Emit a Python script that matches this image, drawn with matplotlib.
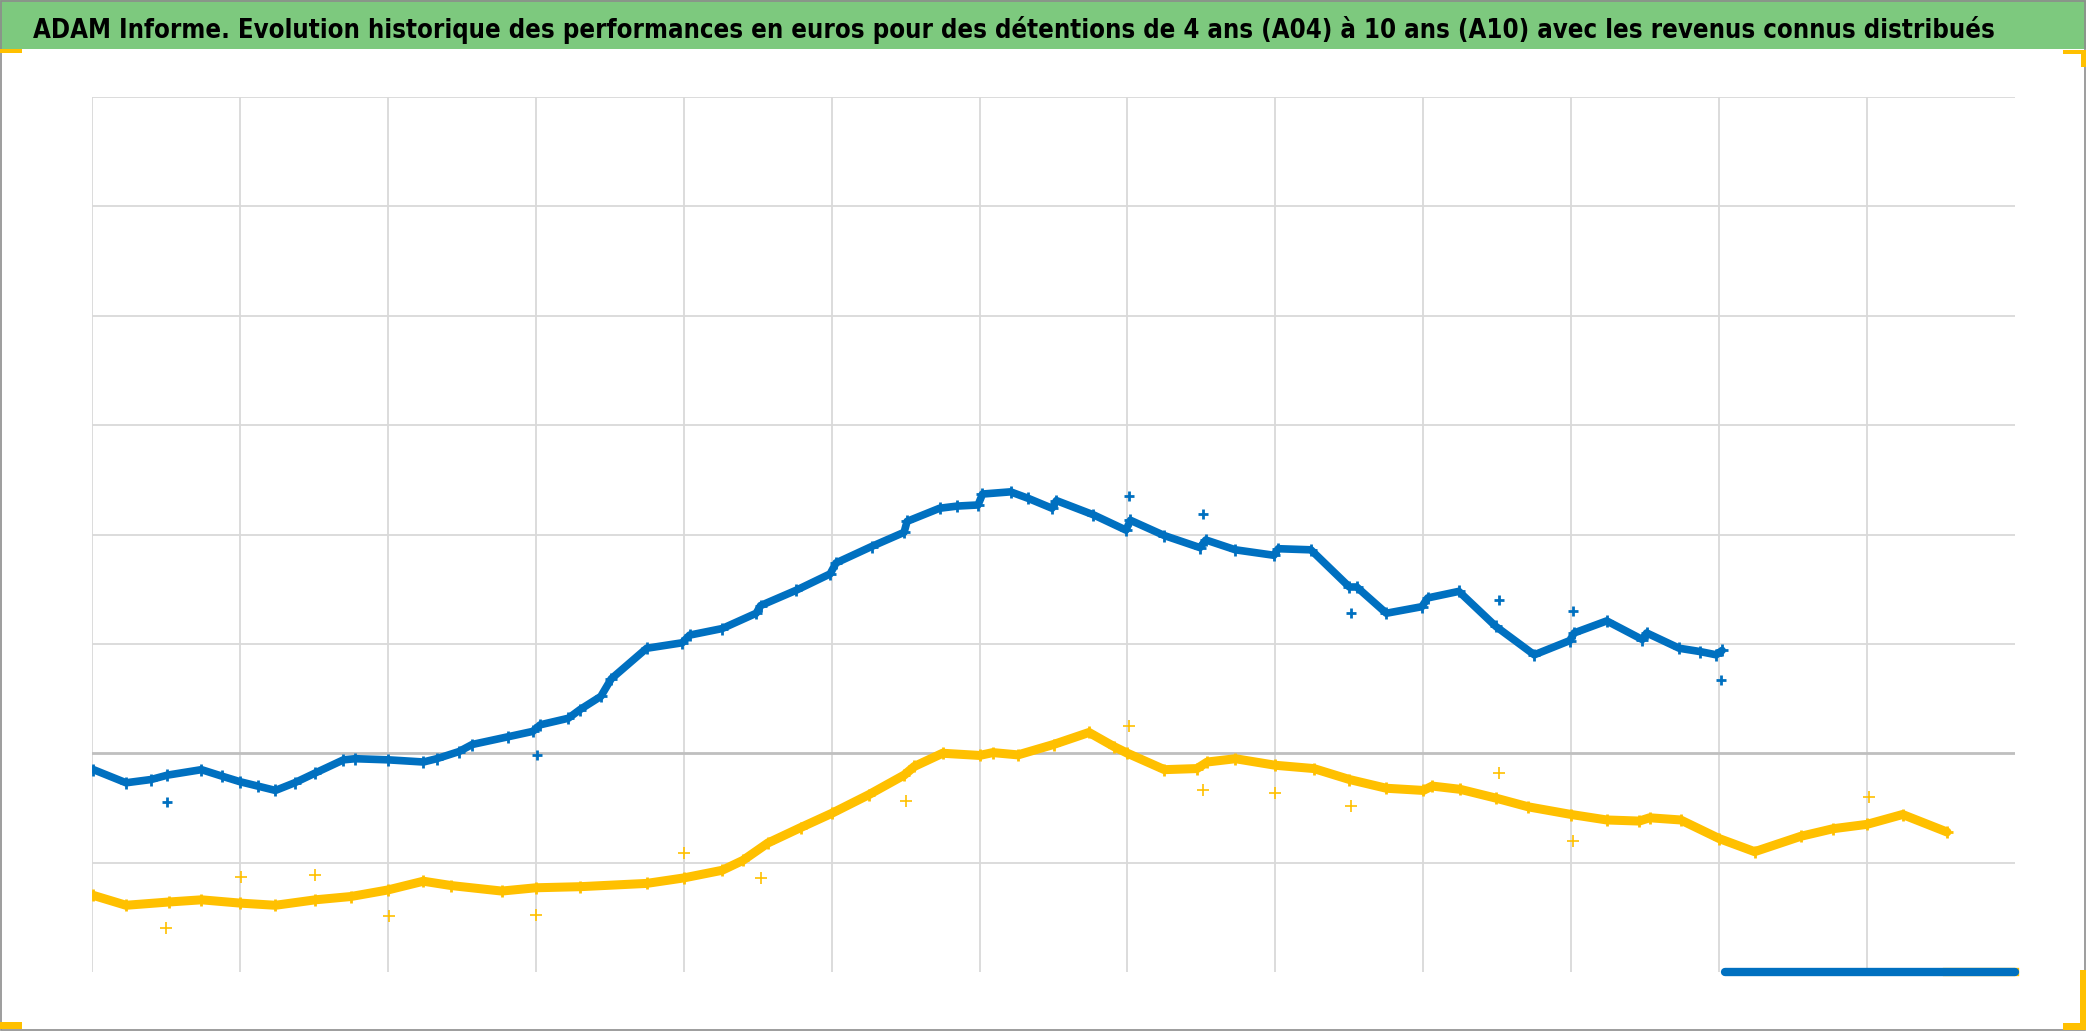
import numpy as np
import matplotlib
matplotlib.use("Agg")
import matplotlib.pyplot as plt
from matplotlib import font_manager

# values, x in gridline steps (0..13), y in gridline steps (-2..6)
a10_x = [0.01, 0.23, 0.40, 0.51, 0.74, 0.88, 1.0, 1.12, 1.24, 1.37, 1.51, 1.70, 1.78, 2.0,
         2.24, 2.33, 2.48, 2.57, 2.81, 2.98, 3.03, 3.22, 3.30, 3.44, 3.51, 3.75, 3.99, 4.04,
         4.26, 4.49, 4.52, 4.76, 4.99, 5.03, 5.27, 5.49, 5.51, 5.73, 5.85, 5.99, 6.02, 6.21,
         6.33, 6.49, 6.52, 6.77, 6.99, 7.02, 7.25, 7.49, 7.53, 7.73, 7.99, 8.02, 8.24, 8.50,
         8.55, 8.75, 8.99, 9.03, 9.24, 9.49, 9.75, 9.99, 10.02, 10.24, 10.48, 10.51, 10.73,
         10.87, 10.98, 11.02]
a10_y = [-0.15, -0.27, -0.24, -0.20, -0.15, -0.21, -0.26, -0.30, -0.34, -0.27, -0.18, -0.06,
         -0.05, -0.06, -0.08, -0.05, 0.015, 0.08, 0.15, 0.20, 0.26, 0.32, 0.40, 0.52, 0.68,
         0.96, 1.01, 1.08, 1.14, 1.28, 1.35, 1.49, 1.64, 1.74, 1.89, 2.02, 2.12, 2.24, 2.26,
         2.27, 2.37, 2.39, 2.33, 2.24, 2.31, 2.18, 2.04, 2.13, 1.99, 1.88, 1.95, 1.86, 1.81,
         1.87, 1.86, 1.52, 1.52, 1.28, 1.34, 1.42, 1.48, 1.16, 0.90, 1.03, 1.10, 1.21, 1.04,
         1.10, 0.96, 0.93, 0.90, 0.94]
a10_odd_x = [0.51, 3.01, 7.01, 7.51, 8.51, 9.51, 10.01, 11.01]
a10_odd_y = [-0.45, -0.015, 2.35, 2.19, 1.28, 1.40, 1.30, 0.67]
a10_floor_x = [11.04, 13.0]
a10_floor_y = [-2.0, -2.0]

a04_x = [0.01, 0.23, 0.52, 0.74, 1.0, 1.24, 1.51, 1.75, 2.0, 2.24, 2.43, 2.77, 3.0, 3.30,
         3.75, 4.0, 4.26, 4.40, 4.57, 4.79, 5.0, 5.25, 5.49, 5.56, 5.75, 6.0, 6.09, 6.26,
         6.50, 6.74, 6.91, 7.0, 7.25, 7.47, 7.54, 7.73, 8.0, 8.26, 8.50, 8.75, 9.0, 9.06,
         9.25, 9.49, 9.71, 10.0, 10.24, 10.46, 10.53, 10.74, 11.0, 11.24, 11.55, 11.77, 12.0,
         12.24, 12.54]
a04_y = [-1.30, -1.39, -1.36, -1.34, -1.37, -1.39, -1.34, -1.31, -1.25, -1.17, -1.21, -1.26,
         -1.23, -1.22, -1.19, -1.14, -1.07, -0.98, -0.82, -0.68, -0.55, -0.38, -0.20, -0.12,
         0.0, -0.02, 0.006, -0.015, 0.08, 0.19, 0.06, 0.0, -0.15, -0.14, -0.08, -0.05, -0.11,
         -0.14, -0.24, -0.32, -0.34, -0.30, -0.33, -0.41, -0.49, -0.56, -0.61, -0.62, -0.59,
         -0.61, -0.78, -0.90, -0.76, -0.69, -0.65, -0.56, -0.72]
a04_odd_x = [0.50, 1.01, 1.51, 2.01, 3.0, 4.0, 4.52, 5.50, 7.01, 7.51, 8.0, 8.51, 9.51, 10.01, 12.01]
a04_odd_y = [-1.60, -1.13, -1.11, -1.49, -1.48, -0.91, -1.14, -0.44, 0.25, -0.34, -0.36,
             -0.48, -0.18, -0.80, -0.40]
a04_floor_x = [12.54, 13.0]
a04_floor_y = [-2.0, -2.0]

title = ("ADAM Informe. Evolution historique des performances en euros pour des "
         "détentions de 4 ans (A04) à 10 ans (A10) avec les revenus connus distribués")

blue = '#0070C0'
yellow = '#FFC000'
green = '#7DC97E'

W, H = 2086, 1031


def title_font():
    # a narrow bold face looks most like the original, else Liberation Sans bold
    narrow = []
    for f in font_manager.fontManager.ttflist:
        fn = f.fname.lower()
        if ('narrow' in fn or 'condensed' in fn) and 'italic' not in fn and 'oblique' not in fn:
            narrow.append(f)
    bold = [f for f in narrow if f.weight in ('bold', 700, 'semibold', 600)]
    if bold:
        return font_manager.FontProperties(fname=bold[0].fname)
    return font_manager.FontProperties(family=['Liberation Sans', 'DejaVu Sans'], weight='bold')


fig = plt.figure(figsize=(W / 100, H / 100), dpi=100)

# green title band
fig.patches.append(plt.Rectangle((0, 1 - 49 / H), 1, 49 / H, transform=fig.transFigure,
                                 facecolor=green, edgecolor='none', zorder=0))
# thin grey frame
fig.patches.append(plt.Rectangle((0.0005, 0.001), 0.999, 0.998, transform=fig.transFigure,
                                 facecolor='none', edgecolor='#8C8C8C', linewidth=1.2, zorder=5))


# yellow corner handles
def corner(x0, y0, w, h):
    fig.patches.append(plt.Rectangle((x0 / W, 1 - (y0 + h) / H), w / W, h / H,
                                     transform=fig.transFigure, facecolor=yellow,
                                     edgecolor='none', zorder=6))


corner(0, 49, 22, 4)
corner(0, 1022, 22, 7)
corner(2063, 50, 23, 4)
corner(2081, 50, 5, 17)
corner(2063, 1023, 23, 7)
corner(2080, 970, 6, 60)

fp = title_font()
fp.set_size(22)
t = fig.text(33 / W, 1 - 38 / H, title, ha='left', va='baseline', fontproperties=fp,
             color='black', zorder=7)
fig.canvas.draw()
bb = t.get_window_extent()
t.set_fontsize(min(22 * 1947 / bb.width, 23.5))

ax = fig.add_axes([92 / W, 1 - 972 / H, (2015 - 92) / W, (972 - 97) / H])
ax.set_xlim(0, 13)
ax.set_ylim(-2, 6)
for s in ax.spines.values():
    s.set_visible(False)
ax.set_xticks([])
ax.set_yticks([])

for gx in range(0, 13):
    ax.axvline(gx, color='#D9D9D9', lw=1.3, zorder=1)
for gy in range(-1, 7):
    if gy == 0:
        ax.axhline(gy, color='#BFBFBF', lw=2.0, zorder=1)
    else:
        ax.axhline(gy, color='#D9D9D9', lw=1.3, zorder=1)

# yellow series (A04)
ax.plot(a04_x, a04_y, color=yellow, lw=6.5, solid_capstyle='round', zorder=3)
ax.plot(a04_x, a04_y, ls='none', marker='+', ms=9, mew=2, color=yellow, zorder=3)
ax.plot(a04_odd_x, a04_odd_y, ls='none', marker='+', ms=8, mew=1.2, color=yellow, zorder=3)
ax.plot(a04_floor_x, a04_floor_y, color=yellow, lw=6, zorder=3, clip_on=False)

# blue series (A10)
ax.plot(a10_x, a10_y, color=blue, lw=5.5, solid_capstyle='round', zorder=4)
ax.plot(a10_x, a10_y, ls='none', marker='+', ms=8, mew=2, color=blue, zorder=4)
ax.plot(a10_odd_x, a10_odd_y, ls='none', marker='+', ms=7, mew=2, color=blue, zorder=4)
ax.plot(a10_floor_x, a10_floor_y, color=blue, lw=6, zorder=4, clip_on=False,
        solid_capstyle='round')

fig.savefig('out.png', dpi=100)
